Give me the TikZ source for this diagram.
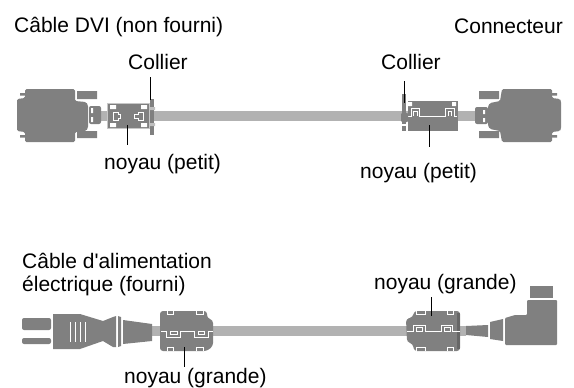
\documentclass[tikz,border=0pt]{standalone}
\usepackage{fontspec}
\setmainfont{Liberation Sans}
\newfontfamily\plainf{Liberation Sans}
\tikzset{
  dark/.style={fill=black!50,draw=none},
  cable/.style={fill=black!30,draw=none},
  edge/.style={draw=black!22,line width=0.9pt},
  detail/.style={draw=white,line width=0.7pt},
  hole/.style={fill=white,draw=none},
  label/.style={anchor=base west,inner sep=0pt,font=\plainf\fontsize{21}{24}\selectfont},
  leader/.style={draw=black,line width=0.9pt}
}
\begin{document}
\begin{tikzpicture}[x=1pt,y=-1pt]
\useasboundingbox (0,0) rectangle (574,388);
% --- DVI cable
\fill[cable] (100,111) rectangle (476,121);
% left connector
\fill[dark,rounded corners=1.5pt] (25,89) -- (75,89) -- (75,101) -- (86,102) -- (88,105) -- (88,128) -- (86,131) -- (75,132) -- (75,142) -- (25,142) -- (25,132) -- (17,131) -- (17,99) -- (25,98) -- cycle;
\fill[dark] (20,93) rectangle (25,95.5) (20,135) rectangle (25,137.5);
\fill[dark] (77,91) rectangle (97,99) (77,131) rectangle (97,138);
\fill[dark,rounded corners=2pt] (89,106) rectangle (101,124);
\fill[hole] (91,108) rectangle (93,113) (91,117) rectangle (93,122);
% left small core
\node[dark,edge,minimum width=42pt,minimum height=25pt,inner sep=0pt] (coreA) at (128,116) {};
\fill[hole] (110,105) rectangle (116,109) (110,123) rectangle (116,127) (141,105) rectangle (147,109) (141,123) rectangle (147,127);
\draw[detail] (113,112) -- (118,112) -- (118,114) -- (120,114) -- (120,118) -- (118,118) -- (118,120) -- (113,120) -- cycle;
\draw[detail] (143,112) -- (138,112) -- (138,114) -- (134,114) -- (134,118) -- (138,118) -- (138,120) -- (143,120) -- cycle;
% left collar
\node[dark,minimum width=4.5pt,minimum height=36pt,inner sep=0pt] (collarA) at (152,117) {};
\fill[black!25] (150,107) rectangle (155,110) (150,123) rectangle (155,126);
% right small core
\node[dark,minimum width=50pt,minimum height=30pt,inner sep=0pt] (coreB) at (433,116) {};
\fill[hole] (408,102) rectangle (412,106) (452,102) rectangle (456,106);
\draw[detail] (408,116.5) -- (411,116.5) -- (411,108.5) -- (419,108.5) -- (419,116.5) -- (445,116.5) -- (445,108.5) -- (454,108.5) -- (454,116.5) -- (457,116.5);
\draw[detail] (413.5,116) -- (413.5,111) -- (417,111) -- (417,116) (448,116) -- (448,111) -- (451.5,111) -- (451.5,116);
% right collar
\node[dark,minimum width=4pt,minimum height=37pt,inner sep=0pt] (collarB) at (404,112) {};
\fill[dark,rounded corners=1pt] (401,113) rectangle (408,122);
\fill[white] (401,124) rectangle (406,125.5);
\fill[dark] (402,127) rectangle (406,131);
% right connector
\fill[dark,rounded corners=1.5pt] (502,89) -- (552,89) -- (552,98) -- (560,99) -- (561,101) -- (561,129) -- (560,131) -- (552,132) -- (552,142) -- (502,142) -- (500,131) -- (490,129) -- (488,126) -- (488,106) -- (490,103) -- (500,101) -- cycle;
\fill[dark] (552,93) rectangle (557,95.5) (552,135) rectangle (557,137.5);
\fill[dark] (479,91) rectangle (499,99) (479,131) rectangle (499,138);
\fill[dark,rounded corners=2pt] (475,107) rectangle (488,124);
\fill[hole] (483,110) rectangle (485,114) (483,118) rectangle (485,122);
% --- power cable
\fill[cable] (152,326) rectangle (466,336);
% plug
\fill[dark,rounded corners=2pt] (22,318) rectangle (51,330) (22,338) rectangle (51,344);
\fill[dark] (53,314) -- (80,314) -- (103,321) -- (113,317) -- (116,316) -- (116,347) -- (113,347) -- (103,341) -- (80,349) -- (53,349) -- cycle;
\fill[dark] (118,316) -- (121,317) -- (121,346) -- (118,347) -- cycle;
\fill[dark] (123,320) -- (152,324) -- (152,341) -- (123,344) -- cycle;
\foreach \xa in {70,75,80,85}{\draw[white,line width=0.9pt] (\xa,322) -- (\xa,342);}
% left big core
\fill[dark,rounded corners=3pt] (160,311) -- (207,311) -- (207,318) -- (213,320) -- (213,346) -- (207,351) -- (160,351) -- cycle;
\node[minimum width=53pt,minimum height=40pt,inner sep=0pt] (coreC) at (186.5,331) {};
\draw[detail] (161,331) -- (166,331) -- (166,337) -- (180,337) -- (180,331) -- (194,331) -- (194,337) -- (208,337) -- (208,331) -- (213,331);
\draw[detail] (170,331) rectangle (177,334) (198,331) rectangle (204,334);
\draw[detail] (167,311) -- (167,314) -- (173,314) -- (173,311) (196,311) -- (196,314) -- (203,314) -- (203,311) (167,351) -- (167,347) -- (173,347) -- (173,351) (196,351) -- (196,347) -- (203,347) -- (203,351);
% right big core
\fill[dark,rounded corners=3pt] (414,311) -- (460,311) -- (460,351) -- (414,351) -- (413,344) -- (407,342) -- (406,319) -- (413,317) -- cycle;
\fill[black!60] (457,313) rectangle (460,349);
\node[minimum width=54pt,minimum height=40pt,inner sep=0pt] (coreD) at (433,331) {};
\draw[detail] (407,331) -- (413,331) -- (413,325) -- (425,325) -- (425,331) -- (441,331) -- (441,325) -- (452,325) -- (452,331) -- (460,331);
\draw[detail] (416,327.5) rectangle (422,331) (444,327.5) rectangle (450,331);
\draw[detail] (416,311) -- (416,314) -- (425,314) -- (425,311) (447,311) -- (447,314) -- (453,314) -- (453,311) (416,351) -- (416,347) -- (425,347) -- (425,351) (447,351) -- (447,347) -- (453,347) -- (453,351);
% right-angle plug
\fill[dark] (466,326) -- (488,325) -- (488,337) -- (466,335) -- cycle;
\fill[dark] (490,322) -- (503,319) -- (503,341) -- (490,339) -- cycle;
\fill[dark,rounded corners=1pt] (505,318) -- (515,315) -- (527,315) -- (527,300) -- (557,300) -- (557,345) -- (505,345) -- cycle;
\fill[dark] (530,286) rectangle (553,298);
% --- labels
\node[label] (t1) at (14,32) {Câble DVI (non fourni)};
\node[label] (t2) at (454,33) {Connecteur};
\node[label] (t3) at (128,70) {Collier};
\node[label] (t4) at (381,70) {Collier};
\node[label] (t5) at (104,169) {noyau (petit)};
\node[label] (t6) at (360,178) {noyau (petit)};
\node[label] (t7) at (22,268) {Câble d'alimentation};
\node[label] (t8) at (22,291) {électrique (fourni)};
\node[label] (t9) at (374,289) {noyau (grande)};
\node[label] (t10) at (124,383) {noyau (grande)};
% --- leaders
\coordinate (a1) at (150,100); \coordinate (a2) at (127,125); \coordinate (a3) at (404,103);
\coordinate (a4) at (429,125); \coordinate (a5) at (184,347); \coordinate (a6) at (431,316);
\draw[leader] (150,77) -- (a1);
\draw[leader] (a2) -- (127,145);
\draw[leader] (404,81) -- (a3);
\draw[leader] (a4) -- (429,147);
\draw[leader] (a5) -- (184,367);
\draw[leader] (431,297) -- (a6);
\end{tikzpicture}
\end{document}
